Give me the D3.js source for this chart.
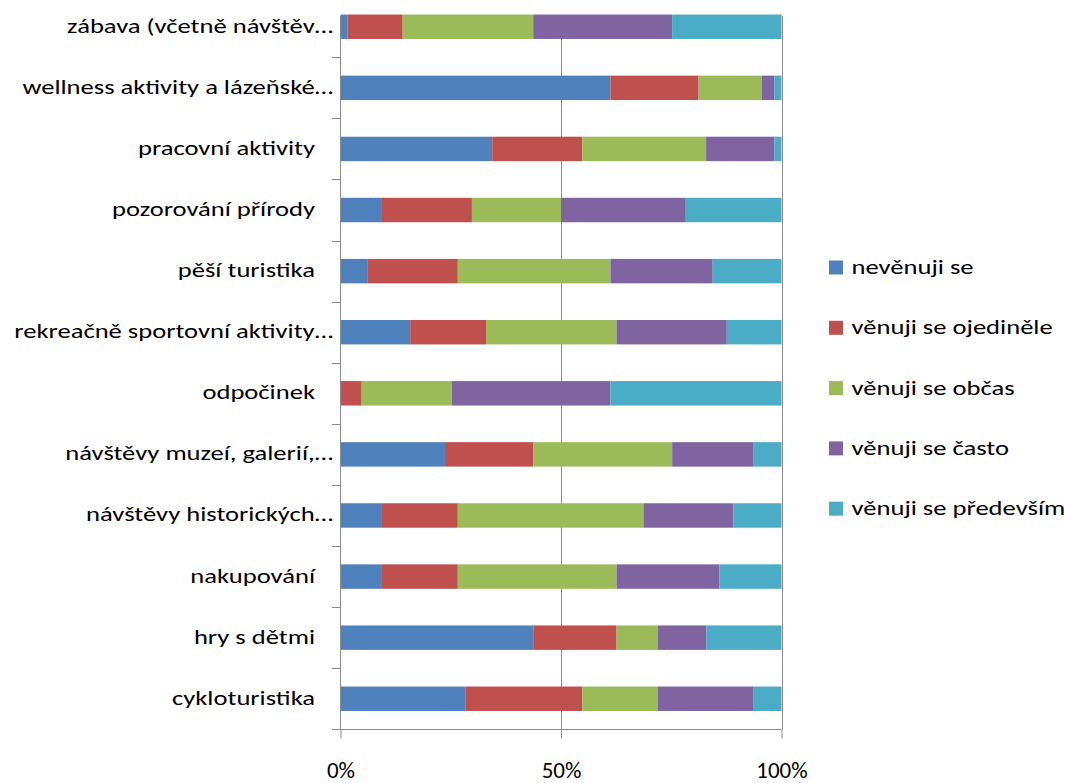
<!DOCTYPE html>
<html>
<head>
<meta charset="utf-8">
<script src="https://cdn.jsdelivr.net/npm/d3@7"></script>
<style>
  html, body { margin: 0; padding: 0; background: #fff; }
  svg { display: block; }
  text { font-family: Carlito, Calibri, Lato, "Open Sans", sans-serif; fill: #000; }
</style>
</head>
<body>
<svg id="chart" width="1065" height="783"></svg>
<script>
// Activity categories, top to bottom
const categories = [
  "zábava (včetně návštěv…",
  "wellness aktivity a lázeňské…",
  "pracovní aktivity",
  "pozorování přírody",
  "pěší turistika",
  "rekreačně sportovní aktivity…",
  "odpočinek",
  "návštěvy muzeí, galerií,…",
  "návštěvy historických…",
  "nakupování",
  "hry s dětmi",
  "cykloturistika"
];

// Answer levels (stack order, left to right)
const seriesNames = [
  "nevěnuji se",
  "věnuji se ojediněle",
  "věnuji se občas",
  "věnuji se často",
  "věnuji se především"
];

// Share of respondents in percent, one array per answer level, in category order
const nevenujiSe   = [1.6, 61.2, 34.4,  9.4,  6.2, 15.8,  0.0, 23.7,  9.4,  9.4, 43.7, 28.3];
const ojedinele    = [12.5, 20.0, 20.4, 20.4, 20.4, 17.2,  4.8, 20.0, 17.2, 17.2, 18.9, 26.5];
const obcas        = [29.6, 14.3, 28.1, 20.2, 34.6, 29.6, 20.4, 31.5, 42.1, 36.0,  9.3, 17.1];
const casto        = [31.5,  2.9, 15.5, 28.3, 23.2, 25.0, 36.0, 18.5, 20.4, 23.3, 11.1, 21.8];
const predevsim    = [24.8,  1.6,  1.6, 21.7, 15.6, 12.4, 38.8,  6.3, 10.9, 14.1, 17.0,  6.3];

const seriesColors = ["#4F81BD", "#C0504D", "#9BBB59", "#8064A2", "#4BACC6"];
const xTicks = [0, 50, 100];

const seriesValues = [nevenujiSe, ojedinele, obcas, casto, predevsim];
const rows = categories.map((c, i) => {
  const r = { category: c };
  seriesNames.forEach((s, j) => { r[s] = seriesValues[j][i]; });
  return r;
});

const svg = d3.select("#chart");

const x = d3.scaleLinear().domain([0, 100]).range([340.5, 781.5]);
const y = d3.scaleBand().domain(categories).range([-3.8, 729.3])
  .paddingInner(0.6).paddingOuter(0.3);
const color = d3.scaleOrdinal().domain(seriesNames).range(seriesColors);

const plotTop = 16;
const plotBottom = 729.3;
const gridColor = "#8c8c8c";
const labelStretch = 1.33;   // wide horizontal text proportions

// Vertical gridlines at 50 % and 100 %
svg.append("g").selectAll("line")
  .data(xTicks.filter(d => d > 0))
  .join("line")
  .attr("x1", d => Math.round(x(d)) + 0.5).attr("x2", d => Math.round(x(d)) + 0.5)
  .attr("y1", plotTop).attr("y2", plotBottom)
  .attr("stroke", gridColor).attr("stroke-width", 1);

// Stacked bars
const stacked = d3.stack().keys(seriesNames)(rows);
svg.append("g").selectAll("g")
  .data(stacked)
  .join("g")
  .attr("fill", d => color(d.key))
  .selectAll("rect")
  .data(d => d)
  .join("rect")
  .attr("x", d => x(d[0]))
  .attr("width", d => Math.max(0, x(d[1]) - x(d[0])))
  .attr("y", d => y(d.data.category))
  .attr("height", y.bandwidth());

// Left axis line and tick marks at band boundaries
const step = y.step();
svg.append("line")
  .attr("x1", 340.5).attr("x2", 340.5)
  .attr("y1", plotTop).attr("y2", plotBottom)
  .attr("stroke", gridColor).attr("stroke-width", 1);
svg.append("g").selectAll("line")
  .data(categories)
  .join("line")
  .attr("x1", 332).attr("x2", 340.5)
  .attr("y1", d => Math.round(y(d) + y.bandwidth() + step * 0.3) + 0.5)
  .attr("y2", d => Math.round(y(d) + y.bandwidth() + step * 0.3) + 0.5)
  .attr("stroke", gridColor).attr("stroke-width", 1);

// Category labels
svg.append("g").selectAll("text")
  .data(categories)
  .join("text")
  .attr("transform", d =>
    `translate(${d.endsWith("…") ? 333 : 315},${y(d) + y.bandwidth() / 2}) scale(${labelStretch},1)`)
  .attr("dy", "0.3em")
  .attr("text-anchor", "end")
  .attr("font-size", 20)
  .text(d => d);

// Bottom axis
const xAxis = d3.axisBottom(x)
  .tickValues(xTicks)
  .tickFormat(d => d + "%")
  .tickSize(9)
  .tickSizeOuter(0)
  .tickPadding(23);
const gx = svg.append("g")
  .attr("transform", `translate(0,${Math.round(plotBottom) + 0.5})`)
  .call(xAxis);
gx.select(".domain").attr("stroke", gridColor).attr("d", `M332,0H781.5`);
gx.selectAll(".tick line").attr("stroke", gridColor);
gx.selectAll(".tick text")
  .attr("font-size", 23)
  .attr("font-family", "Carlito, Calibri, Lato, 'Open Sans', sans-serif")
  .attr("fill", "#000");

// Legend
const legend = svg.append("g").selectAll("g")
  .data(seriesNames)
  .join("g")
  .attr("transform", (d, i) => `translate(829,${267.5 + i * 60.3})`);
legend.append("rect")
  .attr("x", 0).attr("y", -7)
  .attr("width", 14).attr("height", 14)
  .attr("fill", d => color(d));
legend.append("text")
  .attr("transform", `translate(22.5,0) scale(${labelStretch},1)`)
  .attr("dy", "0.33em")
  .attr("font-size", 20)
  .text(d => d);
</script>
</body>
</html>
